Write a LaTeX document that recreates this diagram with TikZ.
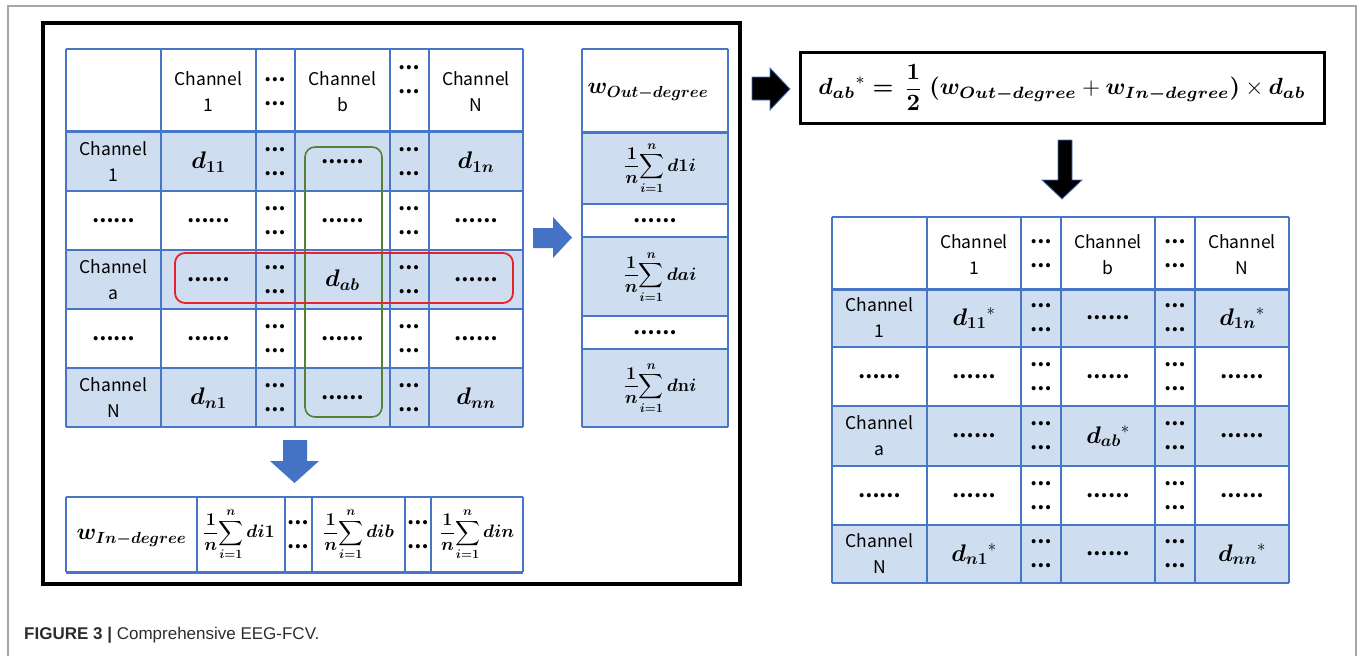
\RequirePackage{fix-cm}
\documentclass[tikz,border=0pt]{standalone}
\usepackage{amsmath}
\usepackage{bm}
\usepackage{graphicx}
\usepackage[no-math]{fontspec}
\newfontfamily\cjk{Noto Sans CJK SC}
\newfontfamily\capfont{Liberation Sans}
\definecolor{tblue}{RGB}{72,118,198}
\definecolor{tfill}{RGB}{207,221,240}
\definecolor{ablue}{RGB}{68,114,196}
\definecolor{gbox}{RGB}{84,130,53}
\definecolor{rbox}{RGB}{232,34,42}
\definecolor{capgray}{RGB}{45,45,45}
\newcommand\sixdots{……}
\newcommand\twodots{…\\…}
\newcommand\SumE[1]{$\displaystyle\frac{\bm 1}{\bm n}\!\sum_{\bm{i=1}}^{\bm n}\bm{#1}$}
\begin{document}
\begin{tikzpicture}[x=1pt,y=-1pt,
  tline/.style={draw=tblue,line width=1.3pt},
  sepline/.style={draw=tblue,line width=3pt},
  chan/.style={font=\cjk\fontsize{17.5}{26}\selectfont,align=center,inner sep=0pt},
  dts/.style={font=\cjk\bfseries\fontsize{19}{24}\selectfont,align=center,inner sep=0pt},
  mth/.style={font=\fontsize{24}{28}\selectfont,inner sep=0pt},
  whead/.style={font=\fontsize{23}{28}\selectfont,inner sep=0pt},
  sm/.style={font=\fontsize{18}{22}\selectfont,inner sep=0pt},
  blockarrow/.style={fill=ablue},
  blackarrow/.style={fill=black,draw=ablue,line width=0.8pt}]
\useasboundingbox (0,0) rectangle (1360,656);
% outer frame
\draw[gray!70,line width=1.3pt] (8,656) -- (8,6) -- (1356,6) -- (1356,656);
% black frame
\draw[line width=3.5pt] (43,23) rectangle (740,584);

% ---------- left matrix ----------
\fill[tfill] (66,131) rectangle (523,191);
\fill[tfill] (66,250) rectangle (523,309);
\fill[tfill] (66,368) rectangle (523,427);
\foreach \x in {66,161,256,295,390,429,523} \draw[tline] (\x,49) -- (\x,427);
\foreach \y in {49,191,250,309,368,427} \draw[tline] (66,\y) -- (523,\y);
\draw[sepline] (66,131) -- (523,131);

\node[chan] (L01) at (208.5,92) {Channel\\1};
\node[dts]  (L02) at (275.5,91.5) {\twodots};
\node[chan] (L03) at (342.5,92) {Channel\\b};
\node[dts]  (L04) at (409.5,80) {\twodots};
\node[chan] (L05) at (476,92) {Channel\\N};
\foreach \n/\y in {1/162,2/221,3/280,4/339,5/398}{
  \node[dts] (L\n2) at (275.5,\y) {\twodots};
  \node[dts] (L\n4) at (409.5,\y) {\twodots};}
\node[chan] (L10) at (113.5,162) {Channel\\1};
\node[mth]  (L11) at (208.5,162) {$\bm{d_{11}}$};
\node[dts]  (L13) at (342.5,162) {\sixdots};
\node[mth]  (L15) at (476,162) {$\bm{d_{1n}}$};
\node[dts]  (L20) at (113.5,221) {\sixdots};
\node[dts]  (L21) at (208.5,221) {\sixdots};
\node[dts]  (L23) at (342.5,221) {\sixdots};
\node[dts]  (L25) at (476,221) {\sixdots};
\node[chan] (L30) at (113.5,280) {Channel\\a};
\node[dts]  (L31) at (208.5,280) {\sixdots};
\node[mth]  (L33) at (342.5,280) {$\bm{d_{ab}}$};
\node[dts]  (L35) at (476,280) {\sixdots};
\node[dts]  (L40) at (113.5,339) {\sixdots};
\node[dts]  (L41) at (208.5,339) {\sixdots};
\node[dts]  (L43) at (342.5,339) {\sixdots};
\node[dts]  (L45) at (476,339) {\sixdots};
\node[chan] (L50) at (113.5,398) {Channel\\N};
\node[mth]  (L51) at (208.5,398) {$\bm{d_{n1}}$};
\node[dts]  (L53) at (342.5,398) {\sixdots};
\node[mth]  (L55) at (476,398) {$\bm{d_{nn}}$};

% highlight boxes
\draw[gbox,line width=1.6pt,rounded corners=10pt] (305,147) rectangle (382,417);
\draw[rbox,line width=1.8pt,rounded corners=10pt] (175,253) rectangle (513,303);

% ---------- out-degree column ----------
\fill[tfill] (582,132) rectangle (728,204);
\fill[tfill] (582,237) rectangle (728,316);
\fill[tfill] (582,349) rectangle (728,427);
\foreach \x in {582,728} \draw[tline] (\x,49) -- (\x,427);
\foreach \y in {49,204,237,316,349,427} \draw[tline] (582,\y) -- (728,\y);
\draw[sepline] (582,132) -- (728,132);
\node[whead] (O0) at (648,92) {$\bm{w_{Out-degree}}$};
\node[sm]  (O1) at (660,168) {\SumE{d1i}};
\node[dts] (O2) at (655,221) {\sixdots};
\node[sm]  (O3) at (660,277) {\SumE{dai}};
\node[dts] (O4) at (655,333) {\sixdots};
\node[sm]  (O5) at (660,388) {\SumE{d\mathrm{n}i}};

% ---------- in-degree row ----------
\foreach \x in {66,197,285,312,405,431,523} \draw[tline] (\x,497) -- (\x,572);
\draw[tline] (66,497) -- (523,497);
\draw[sepline] (66,572) -- (523,572);
\node[whead] (I0) at (131.5,538) {$\bm{w_{In-degree}}$};
\node[sm]  (I1) at (239,534.5) {\SumE{di1}};
\node[dts] (I2) at (298.5,534.5) {\twodots};
\node[sm]  (I3) at (358.5,534.5) {\SumE{dib}};
\node[dts] (I4) at (418,534.5) {\twodots};
\node[sm]  (I5) at (477,534.5) {\SumE{din}};

% ---------- blue arrows ----------
\fill[blockarrow] (533,228) -- (553,228) -- (553,217) -- (572,237.5) -- (553,258) -- (553,248) -- (533,248) -- cycle;
\fill[blockarrow] (283,440) -- (307,440) -- (307,461) -- (319,461) -- (294.5,483) -- (270,461) -- (283,461) -- cycle;

% ---------- formula ----------
\filldraw[blackarrow] (752,77) -- (770,77) -- (770,68) -- (790,89) -- (770,110) -- (770,100) -- (752,100) -- cycle;
\node[draw,line width=3pt,minimum width=524,minimum height=71,inner sep=0pt] (F) at (1062,87.5)
  {\resizebox{487pt}{!}{${\bm{d_{ab}}}^{*}\bm{=}\,\dfrac{\bm 1}{\bm 2}\;\bm{(w_{Out-degree}}+\bm{w_{In-degree})}\times\bm{d_{ab}}$}};
\filldraw[blackarrow] (1058,140) -- (1072,140) -- (1072,180) -- (1082,180) -- (1062,199) -- (1042,180) -- (1058,180) -- cycle;

% ---------- right matrix ----------
\fill[tfill] (832,289) rectangle (1289,347);
\fill[tfill] (832,406) rectangle (1289,466);
\fill[tfill] (832,525) rectangle (1289,583);
\foreach \x in {832,927,1021,1061,1155,1195,1289} \draw[tline] (\x,217) -- (\x,583);
\foreach \y in {217,347,406,466,525,583} \draw[tline] (832,\y) -- (1289,\y);
\draw[sepline] (832,289) -- (1289,289);

\node[chan] (R01) at (974,255) {Channel\\1};
\node[dts]  (R02) at (1041,254) {\twodots};
\node[chan] (R03) at (1108,255) {Channel\\b};
\node[dts]  (R04) at (1175,254) {\twodots};
\node[chan] (R05) at (1242,255) {Channel\\N};
\foreach \n/\y in {1/318,2/376.5,3/436,4/495.5,5/554}{
  \node[dts] (R\n2) at (1041,\y) {\twodots};
  \node[dts] (R\n4) at (1175,\y) {\twodots};}
\node[chan] (R10) at (879.5,318) {Channel\\1};
\node[mth]  (R11) at (974,318) {${\bm{d_{11}}}^{*}$};
\node[dts]  (R13) at (1108,318) {\sixdots};
\node[mth]  (R15) at (1242,318) {${\bm{d_{1n}}}^{*}$};
\node[dts]  (R20) at (879.5,376.5) {\sixdots};
\node[dts]  (R21) at (974,376.5) {\sixdots};
\node[dts]  (R23) at (1108,376.5) {\sixdots};
\node[dts]  (R25) at (1242,376.5) {\sixdots};
\node[chan] (R30) at (879.5,436) {Channel\\a};
\node[dts]  (R31) at (974,436) {\sixdots};
\node[mth]  (R33) at (1108,436) {${\bm{d_{ab}}}^{*}$};
\node[dts]  (R35) at (1242,436) {\sixdots};
\node[dts]  (R40) at (879.5,495.5) {\sixdots};
\node[dts]  (R41) at (974,495.5) {\sixdots};
\node[dts]  (R43) at (1108,495.5) {\sixdots};
\node[dts]  (R45) at (1242,495.5) {\sixdots};
\node[chan] (R50) at (879.5,554) {Channel\\N};
\node[mth]  (R51) at (974,554) {${\bm{d_{n1}}}^{*}$};
\node[dts]  (R53) at (1108,554) {\sixdots};
\node[mth]  (R55) at (1242,554) {${\bm{d_{nn}}}^{*}$};

% ---------- caption ----------
\node[anchor=base west,inner sep=0pt,text=capgray,font=\capfont\fontsize{17}{20}\selectfont] (cap) at (24,639)
  {\textbf{FIGURE 3 |} Comprehensive EEG-FCV.};
\end{tikzpicture}
\end{document}
